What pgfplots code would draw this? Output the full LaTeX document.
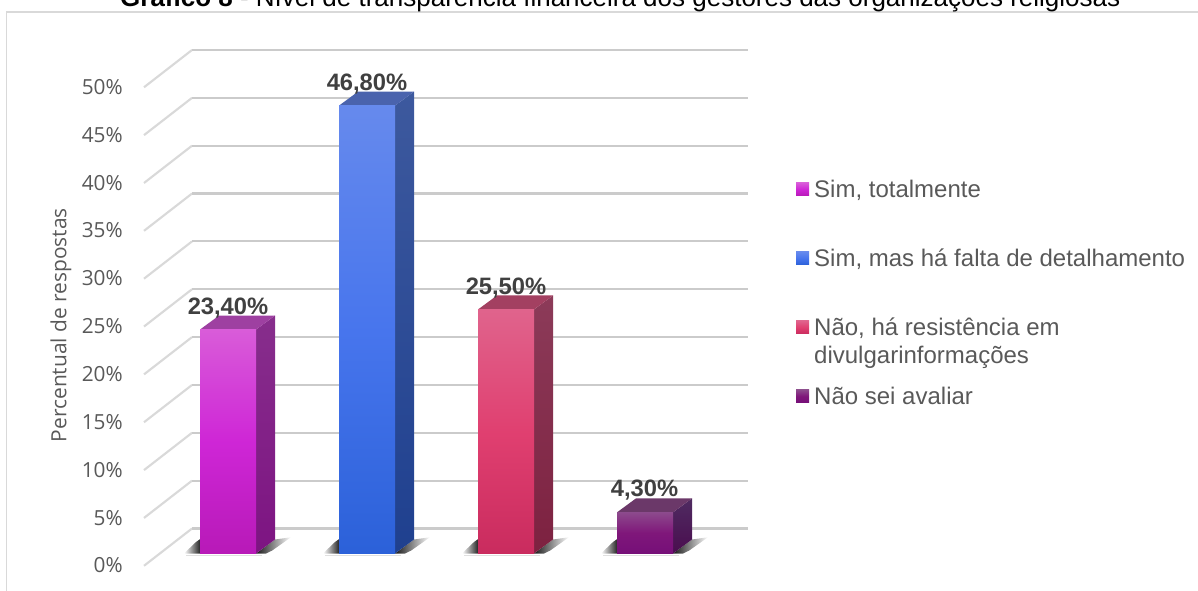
\documentclass[border=0pt]{standalone}
\usepackage{pgfplots}
\pgfplotsset{compat=1.18}
\usepackage{fontspec}
\setmainfont{Liberation Sans}
\newfontfamily\osans{Open Sans}
\definecolor{txt}{HTML}{595959}
\definecolor{lbl}{HTML}{404040}
\definecolor{gridc}{HTML}{CBCBCB}
\definecolor{sidec}{HTML}{D9D9D9}
\definecolor{at}{HTML}{872E8C}\definecolor{ab}{HTML}{7D1482}\definecolor{af}{HTML}{9E40A1}
\definecolor{bt}{HTML}{3D599E}\definecolor{bb}{HTML}{1F408F}\definecolor{bf}{HTML}{4A63AD}
\definecolor{ct}{HTML}{8C3B59}\definecolor{cb}{HTML}{7D2140}\definecolor{cf}{HTML}{A34061}
\definecolor{dt}{HTML}{4F2B61}\definecolor{db}{HTML}{4A0D4F}\definecolor{df}{HTML}{6B3869}
\pgfdeclareverticalshading{fa}{100bp}{rgb(0bp)=(.72,.10,.72);rgb(25bp)=(.72,.10,.72);rgb(50bp)=(.81,.15,.84);rgb(75bp)=(.85,.36,.85);rgb(100bp)=(.85,.36,.85)}
\pgfdeclareverticalshading{fb}{100bp}{rgb(0bp)=(.17,.38,.85);rgb(25bp)=(.17,.38,.85);rgb(50bp)=(.28,.46,.93);rgb(75bp)=(.40,.54,.93);rgb(100bp)=(.40,.54,.93)}
\pgfdeclareverticalshading{fc}{100bp}{rgb(0bp)=(.79,.17,.37);rgb(25bp)=(.79,.17,.37);rgb(50bp)=(.88,.25,.44);rgb(75bp)=(.88,.39,.55);rgb(100bp)=(.88,.39,.55)}
\pgfdeclareverticalshading{fd}{100bp}{rgb(0bp)=(.46,.06,.47);rgb(25bp)=(.46,.06,.47);rgb(50bp)=(.50,.09,.48);rgb(75bp)=(.55,.29,.55);rgb(100bp)=(.55,.29,.55)}
\pgfplotstableread{
x y label
228 23.4 23,40\%
367 46.8 46,80\%
506 25.5 25,50\%
644.5 4.3 4,30\%
}\labeltable
\tikzset{shadowL/.style={left color=white,right color=black!85,draw=none},
 shadowR/.style={left color=black!90,right color=white,draw=none},
 floorline/.style={draw=black!12,line width=1.1pt}}
\begin{document}
\begin{tikzpicture}[x=1pt,y=1pt]
\clip (0,0) rectangle (898.5pt,443.25pt);
\begin{axis}[
 at={(0,0)},anchor=south west,
 scale only axis,width=898.5pt,height=443.25pt,
 xmin=0,xmax=1198,ymin=-3.918,ymax=57.837,
 axis line style={draw=none},
 tick style={draw=none},major tick length=0pt,
 xtick=\empty,
 ytick={0,5,10,15,20,25,30,35,40,45,50},
 yticklabels={0\%,5\%,10\%,15\%,20\%,25\%,30\%,35\%,40\%,45\%,50\%},
 yticklabel style={font=\fontsize{15.6}{18}\selectfont\osans,text=txt,anchor=east,inner sep=0pt,xshift=92.25pt,yshift=-9pt},
 ylabel={Percentual de respostas},
 ylabel style={at={(axis description cs:0.0509,0.450)},anchor=center,font=\fontsize{15.7}{18}\selectfont\osans,text=txt,inner sep=0pt},
 every axis title shift=0pt,
 title={\textbf{Gráfico 8} - Nível de transparência financeira dos gestores das organizações religiosas},
 title style={at={(axis description cs:0.5177,0.98816)},anchor=base,font=\fontsize{19.5}{22}\selectfont,text=black,inner sep=0pt},
 clip=false,
 legend style={at={(axis description cs:0.6644,0.6937)},anchor=north west,draw=none,fill=none,inner sep=0pt,
  font=\fontsize{18}{20}\selectfont,text=txt,cells={anchor=west},
  nodes={inner sep=0pt,text height=12pt,text depth=3pt},
  /tikz/row sep=36.75pt,/tikz/column sep=3.75pt},
 legend cell align=left,
]
% frame
\addplot[sidec,line width=1.1pt,forget plot] coordinates {(6.5,-3.918)(6.5,56.58)(1198,56.58)};
% grid: side wall and back wall at each level
\addplot[sidec,line width=1.6pt,forget plot] coordinates {(144,-1.285)(192,2.61)};
\addplot[sidec,line width=1.6pt,forget plot] coordinates {(144,3.715)(192,7.61)};
\addplot[sidec,line width=1.6pt,forget plot] coordinates {(144,8.715)(192,12.61)};
\addplot[sidec,line width=1.6pt,forget plot] coordinates {(144,13.715)(192,17.61)};
\addplot[sidec,line width=1.6pt,forget plot] coordinates {(144,18.715)(192,22.61)};
\addplot[sidec,line width=1.6pt,forget plot] coordinates {(144,23.715)(192,27.61)};
\addplot[sidec,line width=1.6pt,forget plot] coordinates {(144,28.715)(192,32.61)};
\addplot[sidec,line width=1.6pt,forget plot] coordinates {(144,33.715)(192,37.61)};
\addplot[sidec,line width=1.6pt,forget plot] coordinates {(144,38.715)(192,42.61)};
\addplot[sidec,line width=1.6pt,forget plot] coordinates {(144,43.715)(192,47.61)};
\addplot[sidec,line width=1.6pt,forget plot] coordinates {(144,48.715)(192,52.61)};
\addplot[gridc,line width=1.6pt,forget plot] coordinates {(192,2.61)(748,2.61)};
\addplot[gridc,line width=1.6pt,forget plot] coordinates {(192,7.61)(748,7.61)};
\addplot[gridc,line width=1.6pt,forget plot] coordinates {(192,12.61)(748,12.61)};
\addplot[gridc,line width=1.6pt,forget plot] coordinates {(192,17.61)(748,17.61)};
\addplot[gridc,line width=1.6pt,forget plot] coordinates {(192,22.61)(748,22.61)};
\addplot[gridc,line width=1.6pt,forget plot] coordinates {(192,27.61)(748,27.61)};
\addplot[gridc,line width=1.6pt,forget plot] coordinates {(192,32.61)(748,32.61)};
\addplot[gridc,line width=1.6pt,forget plot] coordinates {(192,37.61)(748,37.61)};
\addplot[gridc,line width=1.6pt,forget plot] coordinates {(192,42.61)(748,42.61)};
\addplot[gridc,line width=1.6pt,forget plot] coordinates {(192,47.61)(748,47.61)};
\addplot[gridc,line width=1.6pt,forget plot] coordinates {(192,52.61)(748,52.61)};
% floor shadows
\addplot[forget plot,floorline] coordinates {(186,-0.2)(262,-0.2)};
\addplot[forget plot,floorline] coordinates {(325,-0.2)(401,-0.2)};
\addplot[forget plot,floorline] coordinates {(464,-0.2)(540,-0.2)};
\addplot[forget plot,floorline] coordinates {(603,-0.2)(679,-0.2)};
\addplot[forget plot,shadowL] coordinates {(184,0)(196,1.2)(200,1.5)(200,0)};
\addplot[forget plot,shadowR] coordinates {(256,0)(275,1.46)(291,1.7)(272,0.3)(266,0)};
\addplot[forget plot,shadowL] coordinates {(323,0)(335,1.2)(339,1.5)(339,0)};
\addplot[forget plot,shadowR] coordinates {(395,0)(414,1.46)(430,1.7)(411,0.3)(405,0)};
\addplot[forget plot,shadowL] coordinates {(462,0)(474,1.2)(478,1.5)(478,0)};
\addplot[forget plot,shadowR] coordinates {(534,0)(553,1.46)(569,1.7)(550,0.3)(544,0)};
\addplot[forget plot,shadowL] coordinates {(601,0)(613,1.2)(617,1.5)(617,0)};
\addplot[forget plot,shadowR] coordinates {(673,0)(692,1.46)(708,1.7)(689,0.3)(683,0)};
% bar 1
\addplot[draw=none,forget plot,top color=at,bottom color=ab] coordinates {(256,0)(275,1.46)(275,24.86)(256,23.4)};
\addplot[draw=none,forget plot,fill=af] coordinates {(200,23.4)(219,24.86)(275,24.86)(256,23.4)};
\addplot[draw=none,shading=fa,legend image code/.code={\fill[shading=fa] (0pt,-3.4pt) rectangle (9.75pt,6.35pt);}] coordinates {(200,0)(256,0)(256,23.4)(200,23.4)};
\addlegendentry{Sim, totalmente}
% bar 2
\addplot[draw=none,forget plot,top color=bt,bottom color=bb] coordinates {(395,0)(414,1.46)(414,48.26)(395,46.8)};
\addplot[draw=none,forget plot,fill=bf] coordinates {(339,46.8)(358,48.26)(414,48.26)(395,46.8)};
\addplot[draw=none,shading=fb,legend image code/.code={\fill[shading=fb] (0pt,-3.4pt) rectangle (9.75pt,6.35pt);}] coordinates {(339,0)(395,0)(395,46.8)(339,46.8)};
\addlegendentry{Sim, mas há falta de detalhamento}
% bar 3
\addplot[draw=none,forget plot,top color=ct,bottom color=cb] coordinates {(534,0)(553,1.46)(553,26.96)(534,25.5)};
\addplot[draw=none,forget plot,fill=cf] coordinates {(478,25.5)(497,26.96)(553,26.96)(534,25.5)};
\addplot[draw=none,shading=fc,legend image code/.code={\fill[shading=fc] (0pt,-3.4pt) rectangle (9.75pt,6.35pt);}] coordinates {(478,0)(534,0)(534,25.5)(478,25.5)};
\addlegendentry{\rlap{\raisebox{-21pt}{divulgarinformações}}Não, há resistência em}
% bar 4
\addplot[draw=none,forget plot,top color=dt,bottom color=db] coordinates {(673,0)(692,1.46)(692,5.76)(673,4.3)};
\addplot[draw=none,forget plot,fill=df] coordinates {(617,4.3)(636,5.76)(692,5.76)(673,4.3)};
\addplot[draw=none,shading=fd,legend image code/.code={\fill[shading=fd] (0pt,-3.4pt) rectangle (9.75pt,6.35pt);}] coordinates {(617,0)(673,0)(673,4.3)(617,4.3)};
\addlegendentry{Não sei avaliar}
% data labels
\addplot[draw=none,mark=none,forget plot,point meta=explicit symbolic,
 nodes near coords,
 nodes near coords style={anchor=center,inner sep=0pt,yshift=16.4pt,font=\fontsize{17.8}{20}\selectfont\bfseries,text=lbl}]
 table[x=x,y=y,meta=label] {\labeltable};
\end{axis}
\end{tikzpicture}
\end{document}
